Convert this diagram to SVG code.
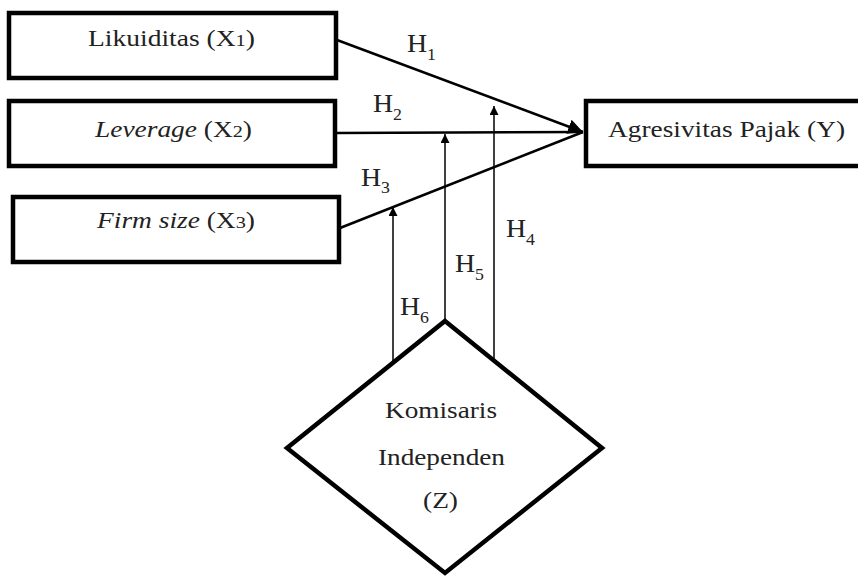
<svg xmlns="http://www.w3.org/2000/svg" width="858" height="576" viewBox="0 0 858 576">
<style>
.box{fill:#fff;stroke:#000;stroke-width:4.5}
.t{font-family:"Liberation Serif","Times New Roman",serif;font-size:23px;fill:#222}
.h{font-family:"Liberation Serif","Times New Roman",serif;font-size:25px;fill:#222}
.sub{font-size:16px}
.xs{font-size:17px}
.main{stroke:#000;stroke-width:2.5;fill:none}
.mod{stroke:#000;stroke-width:1.5;fill:none}
</style>
<defs>
<marker id="big" viewBox="0 0 10 10" refX="10" refY="5" markerWidth="6" markerHeight="6" markerUnits="strokeWidth" orient="auto"><path d="M0,0 L10,5 L0,10 z" fill="#000"/></marker>
<marker id="small" viewBox="0 0 10 10" refX="10" refY="5" markerWidth="7" markerHeight="6" markerUnits="strokeWidth" orient="auto"><path d="M0,0 L10,5 L0,10 z" fill="#000"/></marker>
</defs>
<rect width="858" height="576" fill="#fff"/>
<g id="connectors">
<line class="main" x1="337" y1="40" x2="583" y2="132" marker-end="url(#big)"/>
<line class="main" x1="336" y1="133" x2="583" y2="132"/>
<line class="main" x1="340" y1="228" x2="583" y2="132"/>
<line class="mod" x1="393" y1="363" x2="393" y2="207" marker-end="url(#small)"/>
<line class="mod" x1="445" y1="322" x2="445" y2="134" marker-end="url(#small)"/>
<line class="mod" x1="494" y1="361" x2="494" y2="106" marker-end="url(#small)"/>
<text class="h" x="407" y="52" textLength="29" lengthAdjust="spacingAndGlyphs">H<tspan class="sub" dy="8">1</tspan></text>
<text class="h" x="373" y="112" textLength="29" lengthAdjust="spacingAndGlyphs">H<tspan class="sub" dy="8">2</tspan></text>
<text class="h" x="361" y="186" textLength="29" lengthAdjust="spacingAndGlyphs">H<tspan class="sub" dy="7">3</tspan></text>
<text class="h" x="506" y="237" textLength="29" lengthAdjust="spacingAndGlyphs">H<tspan class="sub" dy="8">4</tspan></text>
<text class="h" x="455" y="272" textLength="29" lengthAdjust="spacingAndGlyphs">H<tspan class="sub" dy="8">5</tspan></text>
<text class="h" x="400" y="315" textLength="29" lengthAdjust="spacingAndGlyphs">H<tspan class="sub" dy="8">6</tspan></text>
</g>
<g id="x1">
<rect class="box" x="9" y="13" width="327" height="65"/>
<text class="t" x="88" y="46" textLength="167" lengthAdjust="spacingAndGlyphs">Likuiditas (X<tspan class="xs">1</tspan>)</text>
</g>
<g id="x2">
<rect class="box" x="9" y="101" width="326" height="65"/>
<text class="t" x="95" y="137" textLength="157" lengthAdjust="spacingAndGlyphs"><tspan font-style="italic">Leverage</tspan> (X<tspan class="xs">2</tspan>)</text>
</g>
<g id="x3">
<rect class="box" x="13" y="197" width="326" height="65"/>
<text class="t" x="97" y="228" textLength="158" lengthAdjust="spacingAndGlyphs"><tspan font-style="italic">Firm size</tspan> (X<tspan class="xs">3</tspan>)</text>
</g>
<g id="y">
<rect class="box" x="586" y="101" width="275" height="65"/>
<text class="t" x="608" y="137" textLength="237" lengthAdjust="spacingAndGlyphs">Agresivitas Pajak (Y)</text>
</g>
<g id="z">
<polygon class="box" points="445,321 602,448 445,573 287,448"/>
<text class="t" x="385" y="418" textLength="112" lengthAdjust="spacingAndGlyphs">Komisaris</text>
<text class="t" x="378" y="465" textLength="127" lengthAdjust="spacingAndGlyphs">Independen</text>
<text class="t" x="423" y="508" textLength="35" lengthAdjust="spacingAndGlyphs">(Z)</text>
</g>
</svg>
